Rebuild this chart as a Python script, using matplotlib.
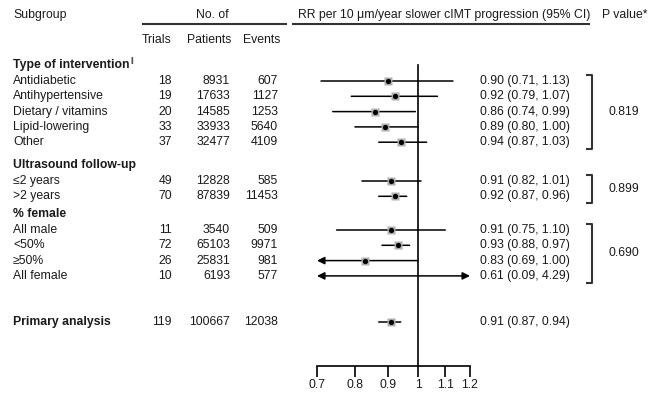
"""
Forest plot: RR per 10 um/year slower cIMT progression by subgroup.
"""

import matplotlib.pyplot as plt
import numpy as np

plt.rcParams['font.family'] = ['Liberation Sans', 'DejaVu Sans']
plt.rcParams['font.size'] = 8.8

# data
group_names = ["Type of intervention", "Ultrasound follow-up", "% female"]
group_p = ["0.819", "0.899", "0.690"]
labels = ["Antidiabetic", "Antihypertensive", "Dietary / vitamins", "Lipid-lowering", "Other",
          "≤2 years", ">2 years",
          "All male", "<50%", "≥50%", "All female"]
group_of = [0, 0, 0, 0, 0, 1, 1, 2, 2, 2, 2]
trials = [18, 19, 20, 33, 37, 49, 70, 11, 72, 26, 10]
patients = [8931, 17633, 14585, 33933, 32477, 12828, 87839, 3540, 65103, 25831, 6193]
events = [607, 1127, 1253, 5640, 4109, 585, 11453, 509, 9971, 981, 577]
rr = [0.90, 0.92, 0.86, 0.89, 0.94, 0.91, 0.92, 0.91, 0.93, 0.83, 0.61]
ci_lo = [0.71, 0.79, 0.74, 0.80, 0.87, 0.82, 0.87, 0.75, 0.88, 0.69, 0.09]
ci_hi = [1.13, 1.07, 0.99, 1.00, 1.03, 1.01, 0.96, 1.10, 0.97, 1.00, 4.29]

primary_label = "Primary analysis"
primary_counts = [119, 100667, 12038]
primary_rr = [0.91, 0.87, 0.94]

x_ticks = [0.7, 0.8, 0.9, 1.0, 1.1, 1.2]
x_ticklabels = ["0.7", "0.8", "0.9", "1", "1.1", "1.2"]
xmin, xmax = 0.7, 1.2

# layout (pixel rows)
W, H = 652, 395
group_y = [65, 165, 214]
row_step = 15.3
primary_y = 322
axis_y = 366
txt = '#1a1a1a'

# row y positions
row_y = []
count = [0, 0, 0]
for g in group_of:
    row_y.append(group_y[g] + 16 + row_step * count[g])
    count[g] += 1

fig = plt.figure(figsize=(W / 100, H / 100), dpi=100)
bg = fig.add_axes([0, 0, 1, 1])
bg.set_xlim(0, W)
bg.set_ylim(H, 0)
bg.axis('off')

fa = fig.add_axes([317 / W, 0, (470 - 317) / W, 1])
fa.set_xscale('log')
fa.set_xlim(xmin, xmax)
fa.set_ylim(H, 0)
fa.patch.set_alpha(0)
for s in ['left', 'right', 'top']:
    fa.spines[s].set_visible(False)
fa.spines['bottom'].set_position(('data', axis_y))
fa.spines['bottom'].set_linewidth(1.2)
fa.set_yticks([])
fa.minorticks_off()
fa.set_xticks(x_ticks)
fa.set_xticklabels(x_ticklabels, color=txt)
fa.tick_params(axis='x', direction='out', length=8, width=1.2, pad=1.5)

# headers
bg.text(13, 15, "Subgroup", va='center', color=txt)
bg.text(212, 15, "No. of", ha='center', va='center', color=txt)
bg.text(298, 15, "RR per 10 μm/year slower cIMT progression (95% CI)", va='center', color=txt)
bg.text(602, 15, "P value*", va='center', color=txt)
bg.plot([143, 286], [24, 24], color='#333333', lw=1.5)
bg.plot([293, 589], [24, 24], color='#333333', lw=1.5)
bg.text(172, 40, "Trials", ha='right', va='center', color=txt)
bg.text(231, 40, "Patients", ha='right', va='center', color=txt)
bg.text(280, 40, "Events", ha='right', va='center', color=txt)

# group headers
for gi, name in enumerate(group_names):
    t = bg.text(13, group_y[gi], name, va='center', weight='bold', color=txt)
    if gi == 0:
        fig.canvas.draw()
        bb = t.get_window_extent()
        bg.text(bb.x1 + 1, group_y[gi] - 4, "||", va='center', fontsize=5, color=txt)

def draw_row(y, name, n_tr, n_pat, n_ev, est, lo, hi, bold=False):
    w = 'bold' if bold else 'normal'
    bg.text(13, y, name, va='center', color=txt, weight=w)
    bg.text(172, y, str(n_tr), ha='right', va='center', color=txt)
    bg.text(230, y, str(n_pat), ha='right', va='center', color=txt)
    bg.text(278, y, str(n_ev), ha='right', va='center', color=txt)
    bg.text(480, y, f"{est:.2f} ({lo:.2f}, {hi:.2f})", va='center', color=txt)
    style = ('<|' if lo < xmin else '') + '-' + ('|>' if hi > xmax else '')
    fa.annotate('', xy=(min(hi, xmax), y), xytext=(max(lo, xmin), y),
                arrowprops=dict(arrowstyle=style, lw=1.1, color='black',
                                mutation_scale=11, shrinkA=0, shrinkB=0))
    if xmin <= est <= xmax:
        fa.plot(est, y, marker='s', ms=6, color='#b0b0b0', mec='none', zorder=3)
        fa.plot(est, y, marker='o', ms=3.8, color='black', mec='none', zorder=4)

for i in range(len(labels)):
    draw_row(row_y[i], labels[i], trials[i], patients[i], events[i], rr[i], ci_lo[i], ci_hi[i])

draw_row(primary_y, primary_label, *primary_counts, *primary_rr, bold=True)

# reference line at 1
fa.plot([1, 1], [65, axis_y], color='black', lw=1.2, clip_on=False)

# p-value brackets
for gi in range(len(group_names)):
    ys = [row_y[i] for i in range(len(labels)) if group_of[i] == gi]
    top, bot = ys[0] - 6, ys[-1] + 7
    bg.plot([587, 592, 592, 587], [top, top, bot, bot], color='#333333', lw=1.5)
    bg.text(624, (top + bot) / 2, group_p[gi], ha='center', va='center', color=txt)

fig.savefig('out.png', dpi=100)
